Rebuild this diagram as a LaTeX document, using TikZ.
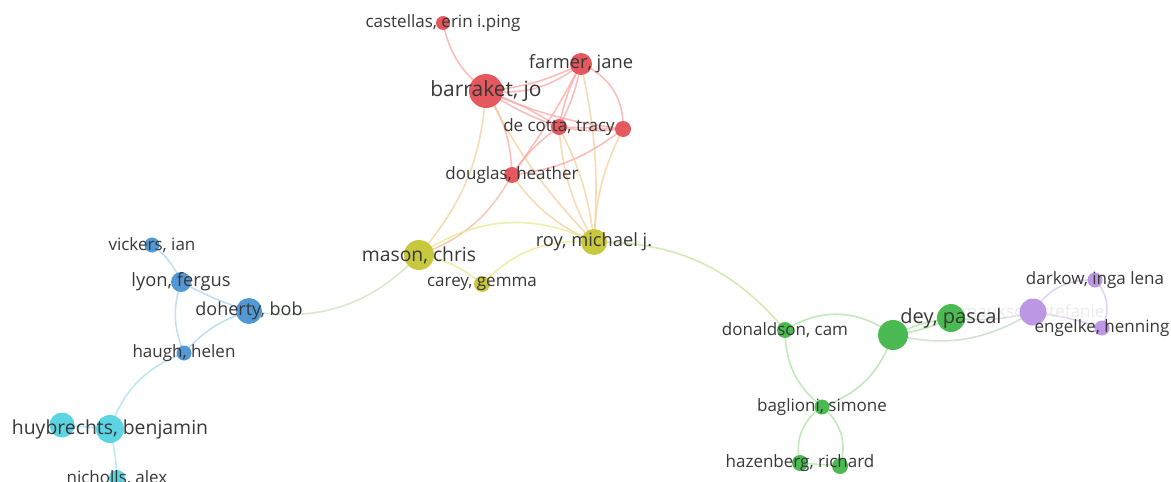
\documentclass[tikz,border=0pt]{standalone}
\usepackage{fontspec}
\setmainfont{Open Sans}
\pgfdeclarelayer{bg}
\pgfsetlayers{bg,main}
\definecolor{txt}{RGB}{55,55,55}
\definecolor{redN}{RGB}{228,88,94}
\definecolor{redE}{RGB}{250,168,164}
\definecolor{oraE}{RGB}{246,207,152}
\definecolor{yelN}{RGB}{200,200,62}
\definecolor{yelE}{RGB}{230,232,140}
\definecolor{bluN}{RGB}{82,152,212}
\definecolor{bluE}{RGB}{172,212,242}
\definecolor{cyaN}{RGB}{92,212,226}
\definecolor{cyaE}{RGB}{160,230,242}
\definecolor{grnN}{RGB}{76,186,82}
\definecolor{grnE}{RGB}{172,226,162}
\definecolor{purN}{RGB}{188,152,228}
\definecolor{purE}{RGB}{216,196,242}
\definecolor{mixE}{RGB}{205,225,190}
\definecolor{gpE}{RGB}{196,214,200}
\definecolor{faint}{RGB}{234,234,238}
\tikzset{
  vn/.style={circle,inner sep=0pt,minimum size=#1},
  lab/.style={text=txt,inner sep=0pt,font=\fontsize{#1}{#1}\selectfont},
  lab/.default=17,
  ed/.style={line width=1.6pt,opacity=0.75}
}
\begin{document}
\begin{tikzpicture}[x=1pt,y=1pt]
\useasboundingbox (0,0) rectangle (1171,-482);
% nodes
\node[vn=14pt,fill=redN] (castellas) at (443,-23) {};
\node[vn=34pt,fill=redN] (barraket) at (486,-91) {};
\node[vn=22pt,fill=redN] (farmer) at (581,-64) {};
\node[vn=16pt,fill=redN] (decotta) at (559,-127) {};
\node[vn=16pt,fill=redN] (redtwo) at (623,-129) {};
\node[vn=16pt,fill=redN] (douglas) at (512,-175) {};
\node[vn=30pt,fill=yelN] (mason) at (419,-255) {};
\node[vn=26pt,fill=yelN] (roy) at (594,-242) {};
\node[vn=16pt,fill=yelN] (carey) at (482,-284) {};
\node[vn=15pt,fill=bluN] (vickers) at (152,-245) {};
\node[vn=20pt,fill=bluN] (lyon) at (181,-282) {};
\node[vn=26pt,fill=bluN] (doherty) at (249,-311) {};
\node[vn=15pt,fill=bluN] (haugh) at (184,-353) {};
\node[vn=25pt,fill=cyaN] (cyantwo) at (62,-425) {};
\node[vn=28pt,fill=cyaN] (huybrechts) at (110,-429) {};
\node[vn=16pt,fill=cyaN] (nicholls) at (117,-478) {};
\node[vn=16pt,fill=grnN] (donaldson) at (785,-330) {};
\node[vn=30pt,fill=grnN] (greentwo) at (893,-335) {};
\node[vn=28pt,fill=grnN] (dey) at (951,-318) {};
\node[vn=15pt,fill=grnN] (baglioni) at (822,-407) {};
\node[vn=16pt,fill=grnN] (hazenberg) at (800,-463) {};
\node[vn=16pt,fill=grnN] (hazentwo) at (840,-466) {};
\node[vn=27pt,fill=purN] (mauksch) at (1033,-312) {};
\node[vn=15pt,fill=purN] (darkow) at (1095,-280) {};
\node[vn=15pt,fill=purN] (engelke) at (1102,-328) {};
% edges
\begin{pgfonlayer}{bg}
\draw[ed,redE] (castellas.center) to[bend right=20] (barraket.center);
\draw[ed,redE] (barraket.center) to[bend right=10] (farmer.center);
\draw[ed,redE] (barraket.center) to[bend right=22] (farmer.center);
\draw[ed,redE] (barraket.center) to[bend left=6] (decotta.center);
\draw[ed,redE] (barraket.center) to[bend right=6] (decotta.center);
\draw[ed,redE] (barraket.center) to[bend right=8] (redtwo.center);
\draw[ed,redE] (barraket.center) to[bend left=15] (douglas.center);
\draw[ed,oraE] (barraket.center) to[bend left=18] (mason.center);
\draw[ed,oraE] (barraket.center) to[bend right=8] (roy.center);
\draw[ed,redE] (farmer.center) to[bend left=8] (decotta.center);
\draw[ed,redE] (farmer.center) to[bend right=8] (decotta.center);
\draw[ed,redE] (farmer.center) to[bend left=35] (redtwo.center);
\draw[ed,redE] (farmer.center) to[bend left=4] (douglas.center);
\draw[ed,oraE] (farmer.center) to[bend left=8] (roy.center);
\draw[ed,redE] (decotta.center) to[bend right=8] (redtwo.center);
\draw[ed,redE] (decotta.center) to (redtwo.center);
\draw[ed,redE] (decotta.center) to[bend right=10] (douglas.center);
\draw[ed,oraE] (decotta.center) to[bend left=10] (roy.center);
\draw[ed,oraE] (decotta.center) to[bend right=12] (roy.center);
\draw[ed,redE] (redtwo.center) to[bend left=15] (douglas.center);
\draw[ed,oraE] (redtwo.center) to[bend right=12] (roy.center);
\draw[ed,oraE] (douglas.center) to[bend right=15] (roy.center);
\draw[ed,redE!60!oraE] (douglas.center) to[bend left=20] (mason.center);
\draw[ed,yelE] (mason.center) to[bend left=30] (roy.center);
\draw[ed,yelE] (mason.center) to[bend left=15] (carey.center);
\draw[ed,yelE] (carey.center) to[bend left=25] (roy.center);
\draw[ed,mixE] (mason.center) to[bend left=28] (doherty.center);
\draw[ed,bluE] (vickers.center) to[bend left=15] (lyon.center);
\draw[ed,bluE] (lyon.center) to[bend right=5] (doherty.center);
\draw[ed,bluE] (lyon.center) to[bend right=20] (haugh.center);
\draw[ed,bluE] (haugh.center) to[bend left=15] (doherty.center);
\draw[ed,bluE!50!cyaE] (haugh.center) to[bend right=25] (huybrechts.center);
\draw[ed,cyaE] (huybrechts.center) to (cyantwo.center);
\draw[ed,cyaE] (huybrechts.center) to[bend left=5] (nicholls.center);
\draw[ed,yelE!40!grnE] (roy.center) to[bend left=25] (donaldson.center);
\draw[ed,grnE] (donaldson.center) to[bend left=35] (greentwo.center);
\draw[ed,grnE] (donaldson.center) to[bend right=25] (baglioni.center);
\draw[ed,grnE] (greentwo.center) to[bend left=25] (baglioni.center);
\draw[ed,grnE] (baglioni.center) to[bend right=35] (hazenberg.center);
\draw[ed,grnE] (baglioni.center) to[bend left=35] (hazentwo.center);
\draw[ed,grnE] (hazenberg.center) to (hazentwo.center);
\draw[ed,grnE] (greentwo.center) to[bend left=8] (dey.center);
\draw[ed,grnE] (greentwo.center) to[bend right=8] (dey.center);
\draw[ed,gpE] (greentwo.center) to[bend right=22] (mauksch.center);
\draw[ed,gpE] (dey.center) to[bend right=10] (mauksch.center);
\draw[ed,purE] (mauksch.center) to[bend left=30] (darkow.center);
\draw[ed,purE] (mauksch.center) to[bend left=5] (engelke.center);
\draw[ed,purE] (darkow.center) to[bend left=35] (engelke.center);
\node[lab,text=faint] at (mauksch) {mauksch, stefanie};
\end{pgfonlayer}
% labels
\node[lab] at (castellas) {castellas, erin i.ping};
\node[lab=21] at (barraket) {barraket, jo};
\node[lab=18.3] at (farmer) {farmer, jane};
\node[lab] at (decotta) {de cotta, tracy};
\node[lab] at (douglas) {douglas, heather};
\node[lab=19.3] at (mason) {mason, chris};
\node[lab=18.3] at (roy) {roy, michael j.};
\node[lab] at (carey) {carey, gemma};
\node[lab] at (vickers) {vickers, ian};
\node[lab=18.3] at (lyon) {lyon, fergus};
\node[lab=18] at (doherty) {doherty, bob};
\node[lab] at (haugh) {haugh, helen};
\node[lab=19.4] at (huybrechts) {huybrechts, benjamin};
\node[lab] at (nicholls) {nicholls, alex};
\node[lab] at (donaldson) {donaldson, cam};
\node[lab=20] at (dey) {dey, pascal};
\node[lab] at (baglioni) {baglioni, simone};
\node[lab] at (hazenberg) {hazenberg, richard};
\node[lab] at (darkow) {darkow, inga lena};
\node[lab] at (engelke) {engelke, henning};
\end{tikzpicture}
\end{document}
